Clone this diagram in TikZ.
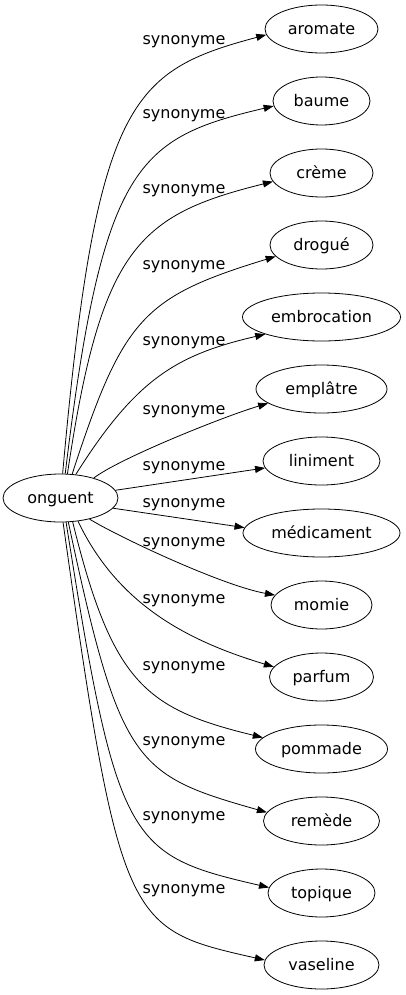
\documentclass[tikz,border=0pt]{standalone}
\usepackage{fontspec}
\setmainfont{DejaVu Sans}
\usetikzlibrary{shapes.geometric,arrows.meta}

\tikzset{
  word/.style={ellipse, draw, line width=0.8pt, inner sep=0pt, minimum height=48pt, text height=15pt, text depth=4pt},
  rel/.style={inner sep=0pt, text height=15pt, text depth=4pt},
  syn/.style={-{Triangle[length=10pt,width=7pt]}, line width=0.8pt},
}

\begin{document}
\begin{tikzpicture}[x=1pt, y=-1pt, font=\fontsize{16}{19}\selectfont]
\useasboundingbox (0,0) rectangle (406,995);

% head word
\node[word, minimum width=115pt] (onguent) at (60.5,498) {onguent};

% synonyms, one every 72pt
\node[word, minimum width=113pt] (aromate) at (321.5,29) {aromate};
\node[word, minimum width=97pt] (baume) at (321.5,101) {baume};
\node[word, minimum width=103pt] (creme) at (321.5,173) {crème};
\node[word, minimum width=103pt] (drogue) at (321.5,245) {drogué};
\node[word, minimum width=158pt] (embrocation) at (321.5,317) {embrocation};
\node[word, minimum width=131pt] (emplatre) at (321.5,389) {emplâtre};
\node[word, minimum width=117pt] (liniment) at (321.5,461) {liniment};
\node[word, minimum width=157pt] (medicament) at (321.5,533) {médicament};
\node[word, minimum width=101pt] (momie) at (321.5,605) {momie};
\node[word, minimum width=104pt] (parfum) at (321.5,677) {parfum};
\node[word, minimum width=132pt] (pommade) at (321.5,749) {pommade};
\node[word, minimum width=116pt] (remede) at (321.5,821) {remède};
\node[word, minimum width=107pt] (topique) at (321.5,893) {topique};
\node[word, minimum width=115pt] (vaseline) at (321.5,965) {vaseline};

% edges
\draw[syn] (onguent.85) .. controls (96,100) and (131,71) .. (aromate.186);
\draw[syn] (onguent.79) .. controls (102.5,163) and (138,138) .. (baume.186);
\draw[syn] (onguent.74) .. controls (101,248) and (138,215) .. (creme.190);
\draw[syn] (onguent.64) .. controls (123,318) and (143,297) .. (drogue.194);
\draw[syn] (onguent.57) .. controls (136,379) and (176,355) .. (embrocation.197);
\draw[syn] (onguent.31) .. controls (120,458) and (225,416) .. (emplatre.195);
\draw[syn] (onguent.8) -- (liniment.187);
\draw[syn] (onguent.349) -- (medicament.176);
\draw[syn] (onguent.324) .. controls (115,535) and (220,585) .. (momie.168);
\draw[syn] (onguent.307) .. controls (118,605) and (188,641) .. (parfum.168);
\draw[syn] (onguent.297) .. controls (112.5,684) and (146,709) .. (pommade.169);
\draw[syn] (onguent.288) .. controls (120,765) and (135,775) .. (remede.171);
\draw[syn] (onguent.283) .. controls (117,845) and (128,855) .. (topique.174);
\draw[syn] (onguent.276) .. controls (120,927) and (127,929) .. (vaseline.175);

% edge labels
\node[rel] (aromate-lab) at (184,39) {synonyme};
\node[rel] (baume-lab) at (184,113) {synonyme};
\node[rel] (creme-lab) at (184,188) {synonyme};
\node[rel] (drogue-lab) at (184,264) {synonyme};
\node[rel] (embrocation-lab) at (184,340) {synonyme};
\node[rel] (emplatre-lab) at (184,409) {synonyme};
\node[rel] (liniment-lab) at (184,465) {synonyme};
\node[rel] (medicament-lab) at (184,502) {synonyme};
\node[rel] (momie-lab) at (184,541) {synonyme};
\node[rel] (parfum-lab) at (184,598) {synonyme};
\node[rel] (pommade-lab) at (184,665) {synonyme};
\node[rel] (remede-lab) at (184,740) {synonyme};
\node[rel] (topique-lab) at (184,815) {synonyme};
\node[rel] (vaseline-lab) at (184,888) {synonyme};
\end{tikzpicture}
\end{document}
